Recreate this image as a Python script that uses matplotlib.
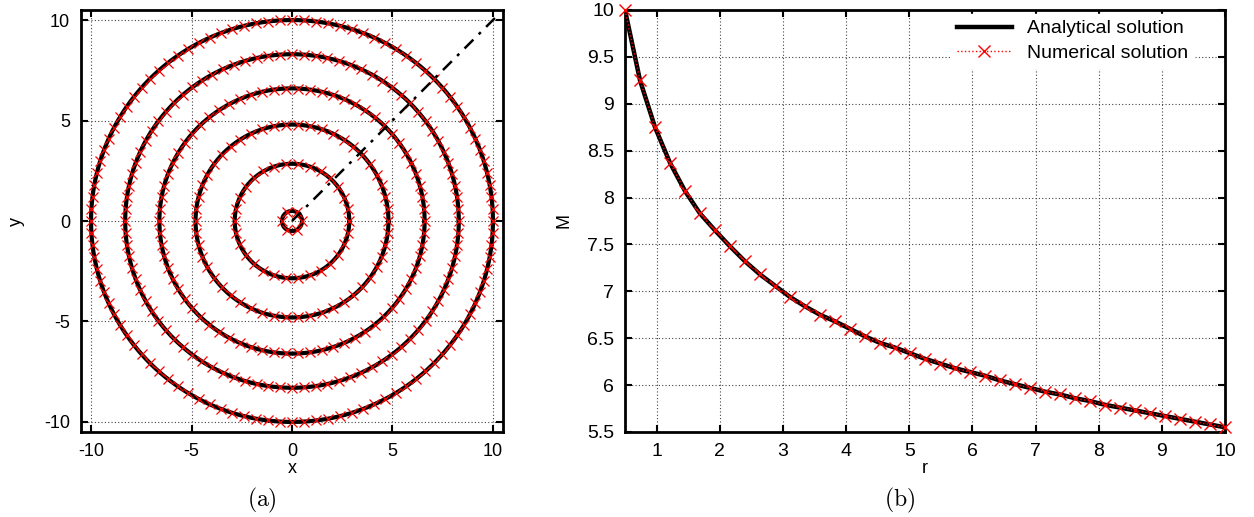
import numpy as np
import matplotlib.pyplot as plt

plt.rcParams['font.family'] = ['Liberation Sans', 'DejaVu Sans']
plt.rcParams['axes.unicode_minus'] = False
plt.rcParams['mathtext.fontset'] = 'cm'

# (a) contour radii and number of numerical points on each
radii = [0.5, 2.85, 4.8, 6.6, 8.3, 10.0]
marker_counts = [6, 30, 50, 70, 88, 104]
ray_end = 10.35

# (b) M(r)
r_vals = [0.5, 0.7375, 0.975, 1.2125, 1.45, 1.6875, 1.925, 2.1625, 2.4, 2.6375,
          2.875, 3.1125, 3.35, 3.5875, 3.825, 4.0625, 4.3, 4.5375, 4.775, 5.0125,
          5.25, 5.4875, 5.725, 5.9625, 6.2, 6.4375, 6.675, 6.9125, 7.15, 7.3875,
          7.625, 7.8625, 8.1, 8.3375, 8.575, 8.8125, 9.05, 9.2875, 9.525, 9.7625, 10.0]
m_vals = [10.0, 9.25, 8.75, 8.37, 8.07, 7.83, 7.65, 7.48, 7.32, 7.18,
          7.06, 6.94, 6.84, 6.75, 6.68, 6.60, 6.52, 6.45, 6.40, 6.34,
          6.28, 6.23, 6.18, 6.14, 6.10, 6.05, 6.01, 5.97, 5.93, 5.90,
          5.86, 5.83, 5.79, 5.76, 5.73, 5.70, 5.67, 5.64, 5.61, 5.58, 5.55]

W, H = 1254, 517
fig = plt.figure(figsize=(W / 100, H / 100), dpi=100)
ax1 = fig.add_axes([81 / W, 1 - 432 / H, 422 / W, 422 / H])
ax2 = fig.add_axes([625 / W, 1 - 432 / H, 600 / W, 422 / H])

grid_kw = dict(color='#444444', linestyle=(0, (1, 2)), linewidth=0.8)

for ax in (ax1, ax2):
    for s in ax.spines.values():
        s.set_linewidth(2.0)
    ax.tick_params(direction='in', length=5, width=1.5, top=True, right=True,
                   labelsize=13, pad=8)
    ax.grid(True, **grid_kw)
    ax.set_axisbelow(True)

# ---- (a)
t = np.linspace(0, 2 * np.pi, 400)
for rad, n in zip(radii, marker_counts):
    ax1.plot(rad * np.cos(t), rad * np.sin(t), color='black', linewidth=3, zorder=3)
    a = np.linspace(0, 2 * np.pi, n, endpoint=False)
    ax1.plot(rad * np.cos(a), rad * np.sin(a), color='red', linestyle='none',
             marker='x', markersize=6.5, markeredgewidth=0.9, zorder=4)
ax1.plot([0, ray_end], [0, ray_end], color='black', linewidth=1.8,
         dashes=(5, 3, 1.2, 3), zorder=5)
ax1.set_xlim(-10.5, 10.5)
ax1.set_ylim(-10.5, 10.5)
ax1.set_xticks([-10, -5, 0, 5, 10])
ax1.set_yticks([-10, -5, 0, 5, 10])
ax1.set_xlabel('x', fontsize=13, labelpad=0)
ax1.set_ylabel('y', fontsize=13, labelpad=14)

# ---- (b)
ax2.plot(r_vals, m_vals, color='black', linewidth=3.2, label='Analytical solution', zorder=3)
ax2.plot(r_vals, m_vals, color='red', linestyle=':', linewidth=1.0, marker='x',
         markersize=8, markeredgewidth=1.0, label='Numerical solution', zorder=4,
         clip_on=False)
ax2.set_xlim(0.5, 10)
ax2.set_ylim(5.5, 10)
ax2.set_xticks(range(1, 11))
ax2.set_yticks(np.arange(5.5, 10.01, 0.5))
ax2.set_yticklabels(['5.5', '6', '6.5', '7', '7.5', '8', '8.5', '9', '9.5', '10'])
ax2.tick_params(labelsize=14)
ax2.set_xlabel('r', fontsize=13, labelpad=0)
ax2.set_ylabel('M', fontsize=13, labelpad=10)
leg = ax2.legend(loc='upper right', bbox_to_anchor=(0.955, 1.0), fontsize=14,
                 frameon=True, fancybox=False, edgecolor='white', framealpha=1.0,
                 handlelength=2.8, borderaxespad=0.2, labelspacing=0.35, borderpad=0.3)

fig.text(262 / W, 1 - 500 / H, r'$\mathrm{(a)}$', ha='center', va='center', fontsize=17)
fig.text(900 / W, 1 - 500 / H, r'$\mathrm{(b)}$', ha='center', va='center', fontsize=17)

fig.savefig('out.png', dpi=100)
